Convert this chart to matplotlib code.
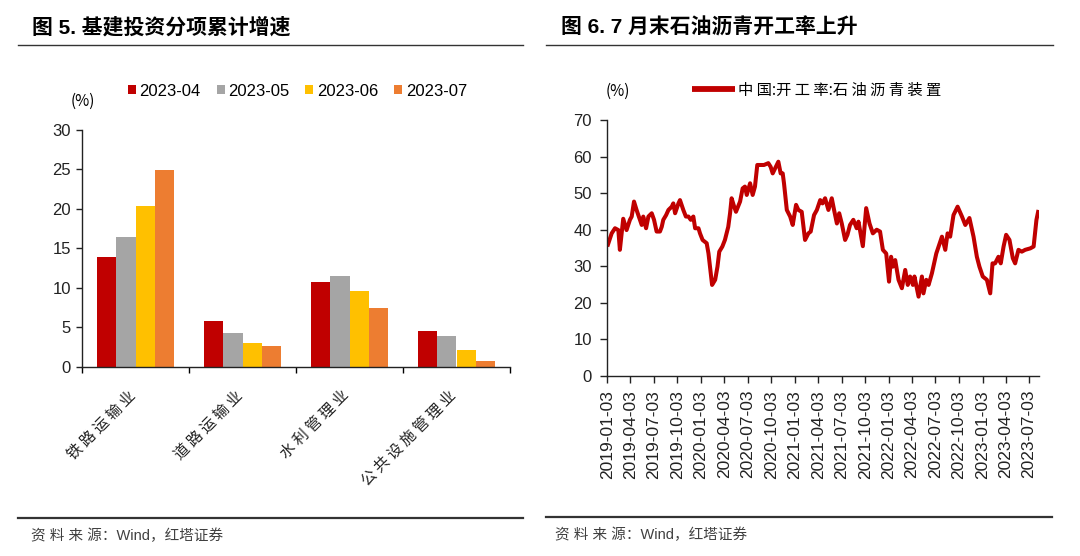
import matplotlib
matplotlib.use('Agg')
import matplotlib.pyplot as plt
import matplotlib.transforms as mtransforms
from matplotlib.lines import Line2D
import numpy as np
import pandas as pd

W, H = 1080, 556
CJK = ['Noto Sans CJK SC', 'DejaVu Sans']
LAT = ['Liberation Sans', 'Noto Sans CJK SC', 'DejaVu Sans']

# ---------------- data: left chart ----------------
categories = ['铁路运输业', '道路运输业', '水利管理业', '公共设施管理业']
series_names = ['2023-04', '2023-05', '2023-06', '2023-07']
val_2023_04 = [13.9, 5.8, 10.7, 4.6]
val_2023_05 = [16.4, 4.3, 11.5, 3.9]
val_2023_06 = [20.4, 3.0, 9.6, 2.1]
val_2023_07 = [24.9, 2.7, 7.5, 0.8]
bar_colors = ['#C00000', '#A5A5A5', '#FFC000', '#ED7D31']

# ---------------- data: right chart ----------------
line_name = '中国:开工率:石油沥青装置'
line_dates = [
    '2019-01-03', '2019-01-20', '2019-02-02', '2019-02-15', '2019-02-21', '2019-03-06',
    '2019-03-19', '2019-04-01', '2019-04-08', '2019-04-17', '2019-04-27', '2019-05-10',
    '2019-05-17', '2019-05-23', '2019-06-03', '2019-06-12', '2019-06-25', '2019-07-04',
    '2019-07-14', '2019-07-27', '2019-08-03', '2019-08-09', '2019-08-20', '2019-08-29',
    '2019-09-11', '2019-09-17', '2019-09-24', '2019-10-07', '2019-10-13', '2019-10-26',
    '2019-11-05', '2019-11-15', '2019-11-24', '2019-12-04', '2019-12-11', '2019-12-24',
    '2019-12-30', '2020-01-09', '2020-01-25', '2020-02-01', '2020-02-07', '2020-02-15',
    '2020-02-27', '2020-03-07', '2020-03-14', '2020-03-26', '2020-04-05', '2020-04-18',
    '2020-04-25', '2020-05-01', '2020-05-11', '2020-05-18', '2020-06-03', '2020-06-13',
    '2020-06-22', '2020-06-29', '2020-07-12', '2020-07-22', '2020-07-31', '2020-08-09',
    '2020-08-20', '2020-09-04', '2020-09-21', '2020-09-30', '2020-10-08', '2020-10-30',
    '2020-11-08', '2020-11-16', '2020-11-21', '2020-12-02', '2020-12-15', '2020-12-25',
    '2021-01-07', '2021-01-16', '2021-01-29', '2021-02-11', '2021-02-24', '2021-03-05',
    '2021-03-18', '2021-03-29', '2021-04-11', '2021-04-20', '2021-04-30', '2021-05-13',
    '2021-05-26', '2021-06-04', '2021-06-15', '2021-06-24', '2021-07-04', '2021-07-17',
    '2021-07-26', '2021-08-05', '2021-08-18', '2021-08-31', '2021-09-07', '2021-09-24',
    '2021-10-07', '2021-10-20', '2021-11-02', '2021-11-17', '2021-11-30', '2021-12-11',
    '2021-12-24', '2022-01-04', '2022-01-12', '2022-01-19', '2022-01-28', '2022-02-10',
    '2022-02-23', '2022-03-08', '2022-03-18', '2022-03-27', '2022-04-07', '2022-04-13',
    '2022-04-29', '2022-05-12', '2022-05-18', '2022-05-29', '2022-06-07', '2022-06-20',
    '2022-07-07', '2022-07-16', '2022-07-29', '2022-08-11', '2022-08-20', '2022-08-30',
    '2022-09-12', '2022-09-28', '2022-10-15', '2022-10-28', '2022-11-13', '2022-11-29',
    '2022-12-12', '2022-12-22', '2023-01-04', '2023-01-20', '2023-02-02', '2023-02-11',
    '2023-02-21', '2023-03-06', '2023-03-15', '2023-03-26', '2023-04-05', '2023-04-18',
    '2023-05-01', '2023-05-10', '2023-05-23', '2023-06-05', '2023-06-18', '2023-07-08',
    '2023-07-21', '2023-08-01', '2023-08-09',
]
line_values = [
    35.4, 39.0, 40.4, 39.9, 34.5, 43.0,
    39.9, 42.7, 43.6, 47.7, 45.4, 42.7,
    41.3, 43.6, 40.4, 43.6, 44.5, 42.7,
    39.5, 39.5, 40.8, 42.7, 44.0, 45.4,
    46.3, 47.2, 44.5, 47.2, 48.1, 45.4,
    43.6, 43.6, 42.7, 43.6, 40.4, 40.4,
    39.0, 37.2, 36.3, 33.5, 29.9, 24.9,
    26.3, 29.9, 34.0, 35.4, 37.2, 40.8,
    44.5, 48.6, 46.3, 44.9, 47.7, 51.3,
    51.8, 49.5, 52.7, 49.5, 51.8, 57.7,
    57.7, 57.7, 58.2, 57.2, 55.4, 58.6,
    55.4, 55.4, 52.7, 45.4, 43.6, 41.3,
    46.8, 45.4, 44.9, 37.2, 39.0, 39.5,
    44.0, 45.4, 48.1, 47.2, 48.6, 45.4,
    48.6, 45.4, 41.7, 44.5, 41.7, 37.2,
    38.6, 41.3, 42.7, 40.4, 42.2, 35.5,
    45.9, 41.7, 39.0, 40.0, 39.5, 34.5,
    33.5, 25.8, 32.6, 29.9, 31.7, 26.3,
    24.0, 29.0, 24.9, 27.2, 24.9, 27.2,
    21.7, 27.2, 22.6, 26.3, 24.9, 28.1,
    33.5, 35.4, 38.1, 34.5, 39.0, 38.1,
    44.0, 46.3, 43.6, 41.3, 43.2, 38.1,
    32.6, 29.9, 27.2, 26.3, 22.6, 30.8,
    30.8, 32.6, 30.8, 35.4, 38.6, 37.2,
    32.2, 30.8, 34.5, 34.0, 34.5, 34.9,
    35.4, 42.7, 45.4,
]
tick_dates = [
    '2019-01-03', '2019-04-03', '2019-07-03', '2019-10-03',
    '2020-01-03', '2020-04-03', '2020-07-03', '2020-10-03',
    '2021-01-03', '2021-04-03', '2021-07-03', '2021-10-03',
    '2022-01-03', '2022-04-03', '2022-07-03', '2022-10-03',
    '2023-01-03', '2023-04-03', '2023-07-03',
]
x_end = '2023-08-09'

title_left = '图 5. 基建投资分项累计增速'
title_right = '图 6. 7 月末石油沥青开工率上升'
source_text = '资料来源：Wind，红塔证券'


def fx(x):
    return x / W


def fy(y):
    return 1 - y / H


def is_cjk(c):
    return '\u4e00' <= c <= '\u9fff'


def spaced(s):
    out = ''
    for i, c in enumerate(s):
        out += c
        if i + 1 < len(s) and is_cjk(c) and is_cjk(s[i + 1]):
            out += ' '
    return out


fig = plt.figure(figsize=(W / 100, H / 100), dpi=100)
fig.patch.set_facecolor('white')

# ---------------- titles / rules / sources ----------------
fig.text(fx(32), fy(27.6), title_left, fontsize=15, weight='bold', family=LAT,
         ha='left', va='center', color='black')
fig.text(fx(561), fy(27.6), title_right, fontsize=15, weight='bold', family=LAT,
         ha='left', va='center', color='black')
for (x0, x1, y, lw) in [(18, 523, 44.8, 1.0), (546, 1053, 44.8, 1.0),
                        (18, 523, 518, 1.6), (546, 1052, 517, 1.6)]:
    fig.add_artist(Line2D([fx(x0), fx(x1)], [fy(y), fy(y)], transform=fig.transFigure,
                          color='#333333', lw=lw))
src = '资 料 来 源：Wind，红塔证券'
fig.text(fx(31), fy(535.5), src, fontsize=10.5, family=LAT, ha='left', va='center', color='#404040')
fig.text(fx(555), fy(535), src, fontsize=10.5, family=LAT, ha='left', va='center', color='#404040')

# ---------------- left: grouped bars ----------------
ax1 = fig.add_axes([fx(82), fy(367), (510 - 82) / W, (367 - 129.5) / H])
x = np.arange(len(categories))
bw = 0.182
all_vals = [val_2023_04, val_2023_05, val_2023_06, val_2023_07]
bars = []
for k, (vals, col, name) in enumerate(zip(all_vals, bar_colors, series_names)):
    b = ax1.bar(x + (k - 1.5) * bw, vals, width=bw, color=col, label=name, linewidth=0)
    bars.append(b)
ax1.set_xlim(-0.5, len(categories) - 0.5)
ax1.set_ylim(0, 30)
ax1.set_yticks(np.arange(0, 31, 5))
ax1.set_xticks(np.arange(-0.5, len(categories), 1.0))
ax1.set_xticklabels([])
for s in ['top', 'right']:
    ax1.spines[s].set_visible(False)
for s in ['left', 'bottom']:
    ax1.spines[s].set_color('#222222')
    ax1.spines[s].set_linewidth(1.0)
ax1.tick_params(axis='y', direction='out', length=4, width=1, pad=4, labelsize=12, colors='#222222')
ax1.tick_params(axis='x', direction='out', length=4, width=1)
for lab in ax1.get_yticklabels():
    lab.set_family(LAT)
tr = mtransforms.offset_copy(ax1.get_xaxis_transform(), fig=fig, x=3.5, y=0, units='dots')
for i, cat in enumerate(categories):
    ax1.text(i, (367 - 387) / 237.5, spaced(cat), transform=tr, rotation=45,
             ha='right', va='top', fontsize=11, family=CJK, color='#222222')

fig.text(fx(83), fy(101), '(%)', fontsize=11, family=CJK, ha='center', va='center')
leg1 = fig.legend(handles=bars, labels=series_names, loc='center left',
                  bbox_to_anchor=(fx(127.6), fy(91)), ncol=4, frameon=False,
                  handlelength=0.48, handleheight=0.48, handletextpad=0.24,
                  columnspacing=0.94, borderpad=0, borderaxespad=0,
                  prop={'family': LAT, 'size': 12})

# ---------------- right: line ----------------
ax2 = fig.add_axes([fx(607.3), fy(376), (1038.5 - 607.3) / W, 256 / H])
dts = pd.to_datetime(line_dates)
ln, = ax2.plot(dts, line_values, color='#C00000', lw=2.9, solid_joinstyle='round',
               solid_capstyle='butt', label=spaced(line_name))
ax2.set_xlim(pd.Timestamp(tick_dates[0]), pd.Timestamp(x_end))
ax2.set_ylim(0, 70)
ax2.set_yticks(np.arange(0, 71, 10))
ax2.set_xticks(pd.to_datetime(tick_dates))
ax2.set_xticklabels(tick_dates, rotation=90)
for s in ['top', 'right']:
    ax2.spines[s].set_visible(False)
for s in ['left', 'bottom']:
    ax2.spines[s].set_color('#222222')
    ax2.spines[s].set_linewidth(1.0)
ax2.tick_params(axis='y', direction='out', length=5, width=1, pad=6, labelsize=12, colors='#222222')
ax2.tick_params(axis='x', direction='out', length=5, width=1, pad=5, labelsize=12.5, colors='#222222')
for lab in ax2.get_yticklabels() + ax2.get_xticklabels():
    lab.set_family(LAT)

fig.text(fx(618), fy(91), '(%)', fontsize=11, family=CJK, ha='center', va='center')
leg2 = fig.legend(handles=[ln], labels=[spaced(line_name)], loc='center left',
                  bbox_to_anchor=(fx(692), fy(90)), frameon=False,
                  handlelength=2.8, handletextpad=0.2, borderpad=0, borderaxespad=0,
                  prop={'family': CJK, 'size': 11})
for l in leg2.get_lines():
    l.set_linewidth(4.2)

fig.savefig('out.png', dpi=100, facecolor='white')
